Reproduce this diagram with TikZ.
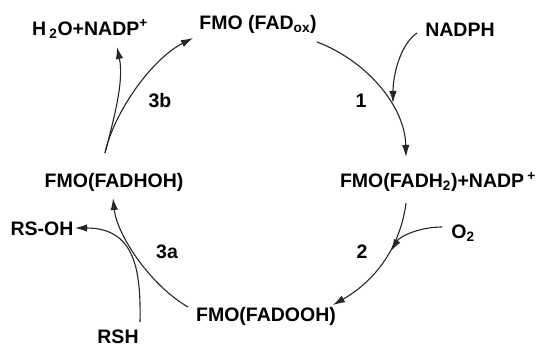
\documentclass[tikz,border=0pt]{standalone}
\usepackage{fontspec}
\setmainfont{Liberation Sans}
\usetikzlibrary{arrows.meta}
\tikzset{
  lbl/.style={font=\bfseries\fontsize{19.5}{22}\selectfont, inner sep=0pt},
  flow/.style={draw=black!85, line width=1.1pt, -{Latex[length=12pt,width=7.5pt]}},
}
\begin{document}
\begin{tikzpicture}[x=1pt,y=-1pt]
\useasboundingbox (0,0) rectangle (537,347);
% species around the cycle
\node[lbl] (h2o)    at (90,29)   {H\,\textsubscript{2}O+NADP\textsuperscript{+}};
\node[lbl] (fadox)  at (258,24)  {FMO (FAD\textsubscript{ox})};
\node[lbl] (nadph)  at (460,30)  {NADPH};
\node[lbl] (fadh2)  at (438,182) {FMO(FADH\textsubscript{2})+NADP\,\textsuperscript{+}};
\node[lbl] (fadhoh) at (114,182) {FMO(FADHOH)};
\node[lbl] (rsoh)   at (42,229)  {RS-OH};
\node[lbl] (o2)     at (463,233) {O\textsubscript{2}};
\node[lbl] (fadooh) at (266,316) {FMO(FADOOH)};
\node[lbl] (rsh)    at (118,337) {RSH};
% step numbers
\node[lbl] (s1)  at (361,101) {1};
\node[lbl] (s2)  at (362,252) {2};
\node[lbl] (s3a) at (167,252) {3a};
\node[lbl] (s3b) at (160,101) {3b};
% junction points
\coordinate (j1) at (393,103);
\coordinate (j2) at (391,251);
\coordinate (j3) at (105,153);
% step 1
\draw[flow] (317,42) .. controls (365,60) and (405,105) .. (406,157);
\draw[flow] (417,33) .. controls (400,45) and (393,75) .. (j1);
% step 2
\draw[flow] (406,203) .. controls (402,235) and (385,275) .. (333,305);
\draw[flow] (442,227) .. controls (420,227) and (400,236) .. (j2);
% step 3a
\draw[flow] (188,307) .. controls (150,285) and (117,235) .. (113,198);
\draw[flow] (140,322) .. controls (141,270) and (135,228) .. (75,228);
% step 3b
\draw[flow] (j3) .. controls (113,115) and (150,60) .. (193,38);
\draw[flow] (j3) .. controls (115,115) and (124,80) .. (117,47);
\end{tikzpicture}
\end{document}
